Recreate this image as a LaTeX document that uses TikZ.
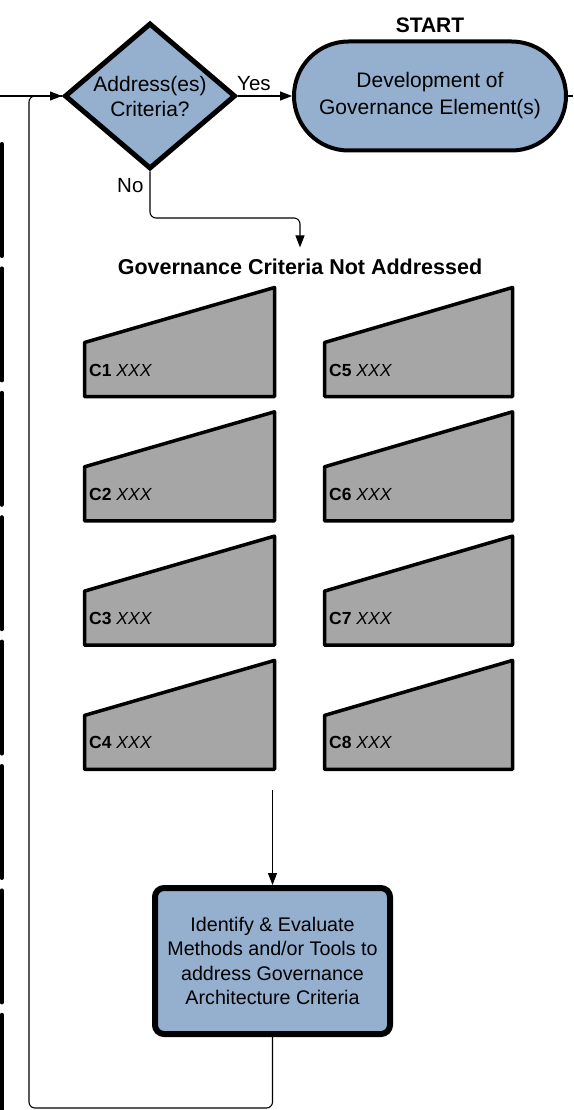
\documentclass[tikz,border=0pt]{standalone}
\usepackage{fontspec}
\setmainfont{Liberation Sans}
\usetikzlibrary{shapes.geometric,shapes.misc,arrows.meta}
\definecolor{gblue}{HTML}{95AFCF}
\definecolor{cgray}{HTML}{A6A6A6}
\begin{document}
\begin{tikzpicture}[x=1pt,y=-1pt,
  thinline/.style={line width=1.1pt,draw=black},
  flow/.style={thinline,-{Triangle[length=12pt,width=9pt]}},
  decision/.style={diamond,draw,line width=5pt,fill=gblue,aspect=1.17,
    minimum width=171pt,minimum height=146pt,inner sep=0pt,align=center,
    font=\fontsize{21}{25}\selectfont},
  terminal/.style={rounded rectangle,draw,line width=4pt,fill=gblue,
    minimum width=272pt,minimum height=109pt,inner sep=0pt,align=center,
    font=\fontsize{21}{27}\selectfont},
  process/.style={rectangle,rounded corners=9pt,draw,line width=6pt,fill=gblue,
    minimum width=235pt,minimum height=146pt,inner sep=0pt,align=center,
    font=\fontsize{19.7}{24.5}\selectfont},
  heading/.style={inner xsep=0pt,inner ysep=11pt,outer sep=0pt,
    font=\fontsize{21.5}{25}\selectfont\bfseries},
  lbl/.style={inner sep=0pt,font=\fontsize{20.5}{24}\selectfont},
  crit/.style={draw=black,fill=cgray,line width=3.5pt,line join=round},
  critlbl/.style={inner sep=0pt,anchor=base west,font=\fontsize{17.5}{20}\selectfont},
  edgebar/.style={line width=4pt,line cap=round,draw=black}]
\useasboundingbox (0,0) rectangle (573,1110);

% cropped neighbour boxes at left edge
\foreach \k in {0,...,7}{
  \draw[edgebar] (1.5,{144+124.4*\k}) -- (1.5,{256+124.4*\k});
}

% main nodes
\node[decision] (dia) at (150,96) {Address(es)\\Criteria?};
\node[terminal] (dev) at (430,96) {Development of\\Governance Element(s)};
\node[lbl,anchor=base,font=\fontsize{21}{24}\selectfont\bfseries] (start) at (430,33) {START};
\node[lbl,anchor=base west] (yes) at (237,91) {Yes};
\node[lbl,anchor=base west] (no) at (117,193) {No};
\node[heading,anchor=base] (gcna) at (300,274) {Governance Criteria Not Addressed};
\node[process] (eval) at (272.5,961) {Identify \& Evaluate\\Methods and/or Tools to\\address Governance\\Architecture Criteria};

% criteria shapes
\foreach \r in {0,...,3}{
  \pgfmathsetmacro\dy{124.3*\r}
  \pgfmathtruncatemacro\na{\r+1}
  \pgfmathtruncatemacro\nb{\r+5}
  \draw[crit] (84.5,{342.5+\dy}) -- (274.5,{287.5+\dy}) -- (274.5,{396.5+\dy}) -- (84.5,{396.5+\dy}) -- cycle;
  \draw[crit] (324.5,{342.5+\dy}) -- (512.5,{287.5+\dy}) -- (512.5,{396.5+\dy}) -- (324.5,{396.5+\dy}) -- cycle;
  \node[critlbl] (c\na) at (89,{376+\dy}) {\textbf{C\na} \textit{XXX}};
  \node[critlbl] (c\nb) at (329,{376+\dy}) {\textbf{C\nb} \textit{XXX}};
}

% coordinates for free ends and bends
\coordinate (leftin) at (0,96);
\coordinate (rightout) at (573,96);
\coordinate (nobend) at (300,218);
\coordinate (boxin) at (272.5,790);
\coordinate (loopr) at (272.5,1108);
\coordinate (loopl) at (29,1108);

% connectors
\draw[thinline] (leftin) -- (dia.west);
\draw[thinline] (dev.east) -- (rightout);
\draw[flow] (dia.east) -- (dev.west);
\draw[flow,rounded corners=6pt] (dia.south) |- (nobend) -- (gcna.north);
\draw[flow] (boxin) -- (eval.north);
\draw[flow,rounded corners=6pt] (eval.south) -- (loopr) -- (loopl) |- (dia.west);
\end{tikzpicture}
\end{document}
